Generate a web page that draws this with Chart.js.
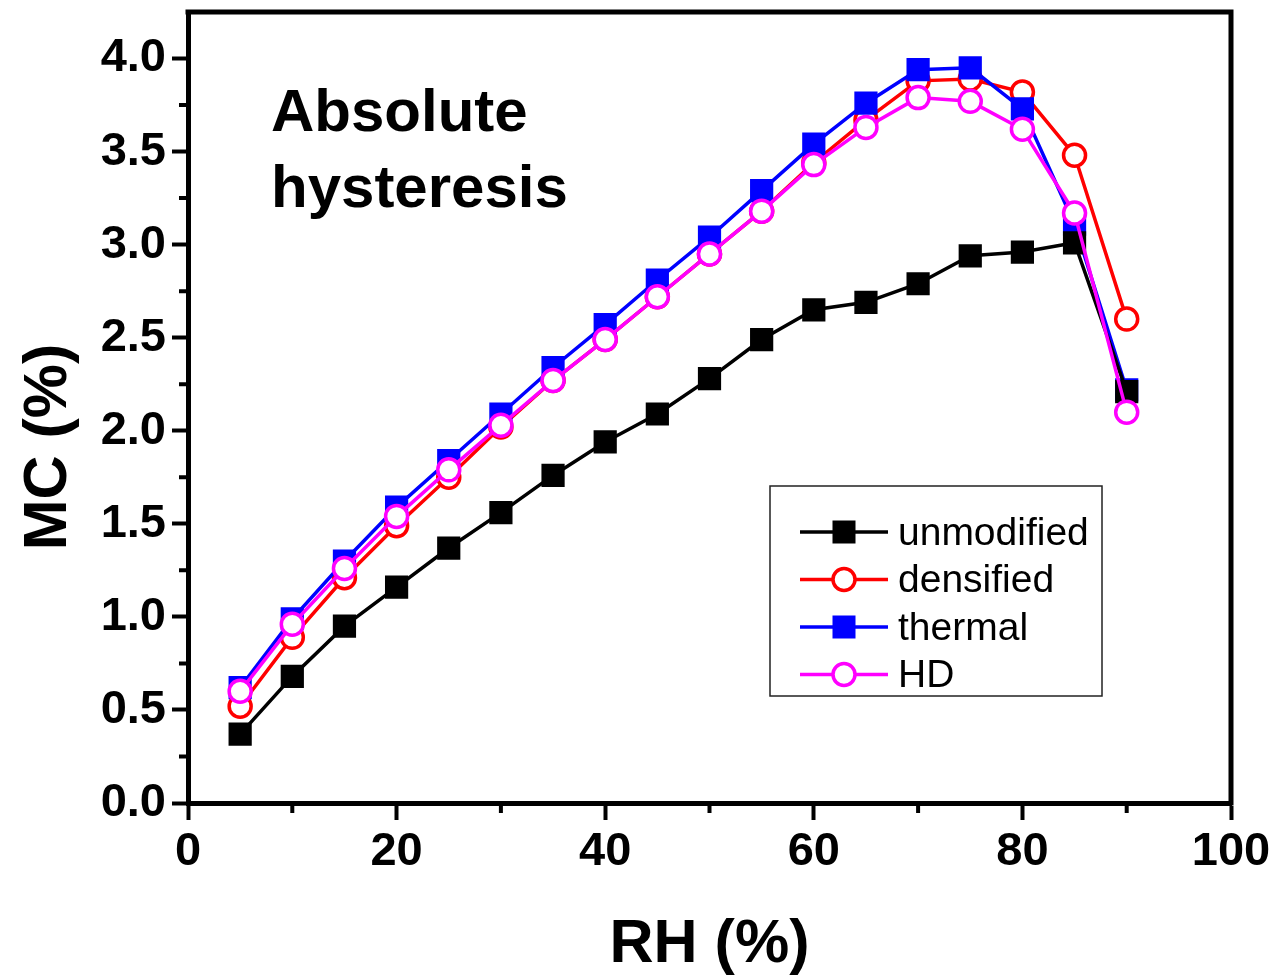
<!DOCTYPE html>
<html>
<head>
<meta charset="utf-8">
<script src="https://cdn.jsdelivr.net/npm/chart.js@4.4.1/dist/chart.umd.min.js"></script>
<style>
  html, body { margin: 0; padding: 0; background: #fff; }
  #wrap { width: 1276px; height: 978px; }
</style>
</head>
<body>
<div id="wrap"><canvas id="myChart" width="1276" height="978"></canvas></div>
<script>
// relative humidity steps (%)
const rh = [5, 10, 15, 20, 25, 30, 35, 40, 45, 50, 55, 60, 65, 70, 75, 80, 85, 90];

// moisture content hysteresis (%)
const mcUnmodified = [0.37, 0.68, 0.95, 1.16, 1.37, 1.56, 1.76, 1.94, 2.09, 2.28, 2.49, 2.65, 2.69, 2.79, 2.94, 2.96, 3.01, 2.21];
const mcDensified  = [0.52, 0.89, 1.21, 1.49, 1.75, 2.02, 2.27, 2.49, 2.72, 2.95, 3.18, 3.44, 3.67, 3.88, 3.89, 3.82, 3.48, 2.60];
const mcThermal    = [0.62, 0.99, 1.30, 1.59, 1.84, 2.09, 2.34, 2.57, 2.81, 3.04, 3.29, 3.54, 3.76, 3.94, 3.95, 3.73, 3.11, 2.22];
const mcHD         = [0.60, 0.96, 1.26, 1.54, 1.79, 2.03, 2.27, 2.49, 2.72, 2.95, 3.18, 3.43, 3.63, 3.79, 3.77, 3.62, 3.17, 2.10];

const xTicks = [0, 20, 40, 60, 80, 100];
const xMinor = [10, 30, 50, 70, 90];
const yTicks = [0, 0.5, 1.0, 1.5, 2.0, 2.5, 3.0, 3.5, 4.0];
const yMinor = [0.25, 0.75, 1.25, 1.75, 2.25, 2.75, 3.25, 3.75];

const FONT = "'Liberation Sans', Arial, Helvetica, sans-serif";

function pts(ys) {
    return rh.map(function (x, i) { return { x: x, y: ys[i] }; });
}

function series(label, ys, color, filled, order) {
    return {
        label: label,
        data: pts(ys),
        borderColor: color,
        backgroundColor: filled ? color : '#ffffff',
        borderWidth: 3.5,
        pointStyle: filled ? 'rect' : 'circle',
        pointRadius: filled ? 15 : 11,
        pointBorderWidth: filled ? 2 : 3.5,
        fill: false,
        tension: 0,
        order: order
    };
}

// frame, minor ticks, axis titles, note and legend
const decorations = {
    id: 'decorations',
    afterDraw: function (chart) {
        const ctx = chart.ctx;
        const a = chart.chartArea;
        const x = chart.scales.x;
        const y = chart.scales.y;
        ctx.save();

        ctx.strokeStyle = '#000';
        ctx.lineWidth = 5;
        ctx.lineCap = 'square';
        ctx.beginPath();
        ctx.moveTo(a.left, a.top);
        ctx.lineTo(a.right, a.top);
        ctx.lineTo(a.right, a.bottom);
        ctx.stroke();

        ctx.lineWidth = 4;
        ctx.lineCap = 'butt';
        ctx.beginPath();
        yMinor.forEach(function (v) {
            const py = y.getPixelForValue(v);
            ctx.moveTo(a.left - 9, py);
            ctx.lineTo(a.left, py);
        });
        xMinor.forEach(function (v) {
            const px = x.getPixelForValue(v);
            ctx.moveTo(px, a.bottom);
            ctx.lineTo(px, a.bottom + 10);
        });
        ctx.stroke();

        ctx.fillStyle = '#000';
        ctx.font = 'bold 61px ' + FONT;
        ctx.textAlign = 'center';
        ctx.textBaseline = 'alphabetic';
        ctx.fillText('RH (%)', (a.left + a.right) / 2, 962);
        ctx.save();
        ctx.translate(66, 447);
        ctx.rotate(-Math.PI / 2);
        ctx.fillText('MC (%)', 0, 0);
        ctx.restore();

        ctx.textAlign = 'left';
        ctx.font = 'bold 60px ' + FONT;
        ctx.fillText('Absolute', 271, 131);
        ctx.fillText('hysteresis', 271, 207);

        // legend box
        ctx.fillStyle = '#fff';
        ctx.fillRect(770, 486, 332, 210);
        ctx.strokeStyle = '#222';
        ctx.lineWidth = 1.5;
        ctx.strokeRect(770, 486, 332, 210);

        ctx.font = '39px ' + FONT;
        ctx.textBaseline = 'middle';
        chart.data.datasets.forEach(function (ds, i) {
            const cy = 532 + i * 47.5;
            ctx.strokeStyle = ds.borderColor;
            ctx.lineWidth = 3.5;
            ctx.beginPath();
            ctx.moveTo(800, cy);
            ctx.lineTo(888, cy);
            ctx.stroke();
            ctx.fillStyle = ds.backgroundColor;
            ctx.lineWidth = ds.pointBorderWidth;
            ctx.beginPath();
            if (ds.pointStyle === 'rect') {
                ctx.rect(844 - 10.5, cy - 10.5, 21, 21);
            } else {
                ctx.arc(844, cy, ds.pointRadius, 0, Math.PI * 2);
            }
            ctx.fill();
            ctx.stroke();
            ctx.fillStyle = '#000';
            ctx.fillText(ds.label, 898, cy + 2);
        });

        ctx.restore();
    }
};

const ctx = document.getElementById('myChart').getContext('2d');
const myChart = new Chart(ctx, {
    type: 'line',
    data: {
        datasets: [
            series('unmodified', mcUnmodified, '#000000', true, 2),
            series('densified', mcDensified, '#ff0000', false, 4),
            series('thermal', mcThermal, '#0000ff', true, 3),
            series('HD', mcHD, '#ff00ff', false, 1)
        ]
    },
    options: {
        responsive: false,
        animation: false,
        devicePixelRatio: 1,
        events: [],
        layout: { autoPadding: false, padding: { top: 12, right: 45, left: 0, bottom: 0 } },
        plugins: {
            legend: { display: false },
            tooltip: { enabled: false }
        },
        scales: {
            x: {
                type: 'linear',
                min: 0,
                max: 100,
                afterBuildTicks: function (scale) {
                    scale.ticks = xTicks.map(function (v) { return { value: v }; });
                },
                afterFit: function (scale) {
                    scale.height = 175;
                    scale.paddingLeft = 0;
                    scale.paddingRight = 0;
                },
                ticks: {
                    color: '#000',
                    padding: 4,
                    maxRotation: 0,
                    font: { family: FONT, size: 47, weight: 'bold' }
                },
                grid: {
                    drawOnChartArea: false,
                    drawTicks: true,
                    tickLength: 17,
                    tickWidth: 4,
                    tickColor: '#000'
                },
                border: { display: true, color: '#000', width: 5 }
            },
            y: {
                min: 0,
                max: 4.25,
                afterBuildTicks: function (scale) {
                    scale.ticks = yTicks.map(function (v) { return { value: v }; });
                },
                afterFit: function (scale) {
                    scale.width = 188;
                    scale.paddingTop = 0;
                    scale.paddingBottom = 0;
                },
                ticks: {
                    color: '#000',
                    padding: 6,
                    font: { family: FONT, size: 47, weight: 'bold' },
                    callback: function (v) { return Number(v).toFixed(1); }
                },
                grid: {
                    drawOnChartArea: false,
                    drawTicks: true,
                    tickLength: 16,
                    tickWidth: 4,
                    tickColor: '#000'
                },
                border: { display: true, color: '#000', width: 5 }
            }
        }
    },
    plugins: [decorations]
});
</script>
</body>
</html>
